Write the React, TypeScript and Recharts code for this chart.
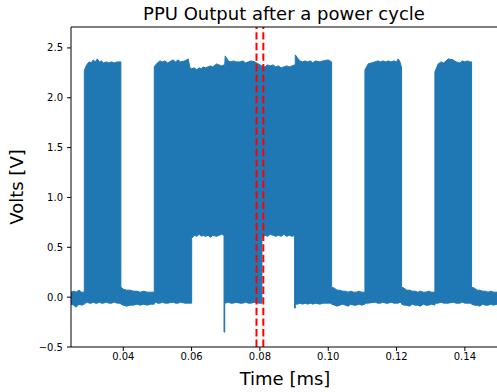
import React from 'react';
import { ComposedChart, Area, XAxis, YAxis, ReferenceLine } from 'recharts';

// Time axis (ms) of the envelope points of the sampled PPU output
const timeMs = [
  0.0247, 0.0255, 0.0262, 0.0270, 0.0278, 0.0286,
  0.0286, 0.0290, 0.0295, 0.0300, 0.0306, 0.0312, 0.0318, 0.0324, 0.0330, 0.0336, 0.0342, 0.0350, 0.0358, 0.0366, 0.0374, 0.0382, 0.0393,
  0.0393, 0.0400, 0.0410, 0.0420, 0.0430, 0.0440, 0.0450, 0.0460, 0.0470, 0.0480, 0.04907,
  0.04907, 0.0495, 0.0500, 0.05074, 0.0515, 0.0522, 0.0530, 0.05454, 0.0553, 0.05601, 0.0568, 0.05806, 0.05902, 0.05952, 0.06002,
  0.06002, 0.0608, 0.0615, 0.0622, 0.0630, 0.06332, 0.0640, 0.0648, 0.0655, 0.0662, 0.06733, 0.0680, 0.0688, 0.0695,
  0.0695, 0.0697, 0.0697,
  0.06985, 0.07073, 0.0715, 0.0722, 0.0730, 0.07415, 0.0750, 0.0758, 0.0766, 0.0774, 0.07854, 0.0795, 0.08059,
  0.08059, 0.08147, 0.0822, 0.0830, 0.08390, 0.0846, 0.0854, 0.0862, 0.0870, 0.08782, 0.0886, 0.0894, 0.09015,
  0.09015, 0.09035, 0.09035,
  0.0910, 0.09171, 0.0925, 0.0932, 0.0940, 0.0948, 0.0955, 0.0962, 0.09757, 0.0985, 0.09999, 0.10099,
  0.10099, 0.1018, 0.1026, 0.1034, 0.1042, 0.1050, 0.1058, 0.1066, 0.1074, 0.1082, 0.1090, 0.1098, 0.11074,
  0.11074, 0.11170, 0.11366, 0.1145, 0.1153, 0.1160, 0.1168, 0.1176, 0.1184, 0.1192, 0.1200, 0.12048, 0.1210, 0.12147,
  0.12147, 0.1222, 0.1230, 0.1238, 0.1246, 0.1254, 0.1262, 0.1270, 0.1278, 0.1286, 0.1294, 0.1302, 0.13122,
  0.13122, 0.13218, 0.1330, 0.1338, 0.1345, 0.13511, 0.13658, 0.1374, 0.13854, 0.1393, 0.1400, 0.1408, 0.1415, 0.14196,
  0.14196, 0.1428, 0.1436, 0.1444, 0.1452, 0.1460, 0.1468, 0.1476, 0.1484, 0.1494,
];

// Lower envelope of the signal (V)
const lowV = [
  -0.07, -0.08, -0.10, -0.07, -0.08, -0.07,
  -0.05, -0.06, -0.05, -0.06, -0.06, -0.05, -0.06, -0.06, -0.05, -0.06, -0.06, -0.05, -0.06, -0.06, -0.05, -0.06, -0.06,
  -0.07, -0.08, -0.09, -0.08, -0.08, -0.07, -0.08, -0.07, -0.08, -0.07, -0.07,
  -0.06, -0.05, -0.06, -0.06, -0.05, -0.06, -0.06, -0.05, -0.06, -0.06, -0.05, -0.06, -0.06, -0.06, -0.06,
  0.59, 0.62, 0.61, 0.63, 0.61, 0.62, 0.61, 0.62, 0.60, 0.62, 0.61, 0.62, 0.63, 0.62,
  -0.35, -0.35, -0.06,
  -0.06, -0.05, -0.06, -0.06, -0.05, -0.06, -0.06, -0.05, -0.06, -0.06, -0.05, -0.06, -0.06,
  0.59, 0.62, 0.61, 0.63, 0.62, 0.61, 0.62, 0.61, 0.63, 0.61, 0.62, 0.61, 0.62,
  -0.11, -0.11, -0.07,
  -0.07, -0.06, -0.07, -0.06, -0.07, -0.06, -0.07, -0.06, -0.07, -0.06, -0.06, -0.06,
  -0.07, -0.08, -0.09, -0.08, -0.07, -0.08, -0.09, -0.07, -0.08, -0.08, -0.07, -0.08, -0.07,
  -0.06, -0.06, -0.05, -0.06, -0.06, -0.05, -0.06, -0.06, -0.05, -0.06, -0.06, -0.06, -0.05, -0.06,
  -0.07, -0.08, -0.08, -0.09, -0.07, -0.08, -0.08, -0.09, -0.07, -0.08, -0.08, -0.07, -0.08,
  -0.06, -0.06, -0.05, -0.06, -0.06, -0.06, -0.05, -0.06, -0.06, -0.05, -0.06, -0.06, -0.06, -0.06,
  -0.07, -0.08, -0.08, -0.09, -0.07, -0.08, -0.08, -0.07, -0.08, -0.07,
];

// Upper envelope of the signal (V)
const highV = [
  0.05, 0.06, 0.05, 0.07, 0.05, 0.05,
  2.27, 2.31, 2.34, 2.36, 2.35, 2.38, 2.36, 2.39, 2.36, 2.37, 2.35, 2.36, 2.35, 2.36, 2.35, 2.36, 2.36,
  0.10, 0.08, 0.07, 0.07, 0.06, 0.06, 0.05, 0.06, 0.05, 0.05, 0.05,
  2.31, 2.33, 2.35, 2.37, 2.36, 2.37, 2.35, 2.38, 2.36, 2.38, 2.36, 2.37, 2.39, 2.30, 2.29,
  2.29, 2.30, 2.28, 2.30, 2.29, 2.31, 2.30, 2.31, 2.32, 2.31, 2.34, 2.33, 2.32, 2.33,
  2.33, 2.33, 2.33,
  2.42, 2.37, 2.36, 2.37, 2.36, 2.36, 2.37, 2.35, 2.36, 2.37, 2.36, 2.34, 2.32,
  2.32, 2.31, 2.33, 2.32, 2.33, 2.31, 2.32, 2.30, 2.31, 2.32, 2.31, 2.32, 2.33,
  2.33, 2.33, 2.43,
  2.40, 2.37, 2.36, 2.37, 2.36, 2.37, 2.35, 2.37, 2.36, 2.37, 2.38, 2.36,
  0.10, 0.09, 0.07, 0.07, 0.06, 0.06, 0.05, 0.06, 0.05, 0.05, 0.06, 0.05, 0.05,
  2.28, 2.34, 2.36, 2.37, 2.36, 2.37, 2.36, 2.37, 2.36, 2.37, 2.36, 2.39, 2.36, 2.30,
  0.10, 0.09, 0.07, 0.07, 0.06, 0.06, 0.05, 0.06, 0.05, 0.05, 0.06, 0.05, 0.05,
  2.26, 2.34, 2.36, 2.35, 2.37, 2.39, 2.38, 2.36, 2.35, 2.37, 2.36, 2.37, 2.36, 2.36,
  0.10, 0.09, 0.07, 0.07, 0.06, 0.06, 0.05, 0.06, 0.05, 0.05,
];

// Marker positions (ms) of the red dashed lines
const markerTimes = [0.079, 0.081];

const xTicks = [0.04, 0.06, 0.08, 0.10, 0.12, 0.14];
const yTicks = [-0.5, 0.0, 0.5, 1.0, 1.5, 2.0, 2.5];
const xDomain: [number, number] = [0.0247, 0.1494];
const yDomain: [number, number] = [-0.5, 2.71];

const data = timeMs.map((t, i) => ({ t, range: [lowV[i], highV[i]] }));

const FONT = 'DejaVu Sans';
const tickStyle = { fontFamily: FONT, fontSize: 10, fill: '#000' };
const fmt = (d: number) => (v: number) => v.toFixed(d).replace('-', '\u2212');

export default function App() {
  return (
    <div style={{ position: 'absolute', left: 0, top: 0, width: 497, height: 392, overflow: 'hidden', background: '#fff' }}>
      <ComposedChart width={497} height={392} data={data} margin={{ top: 27, right: 0, bottom: 0, left: 0 }}>
        <XAxis
          type="number"
          dataKey="t"
          domain={xDomain}
          allowDataOverflow
          ticks={xTicks}
          tickFormatter={fmt(2)}
          tick={tickStyle}
          tickSize={4}
          tickMargin={2}
          height={45}
          axisLine={{ stroke: '#000', strokeWidth: 1 }}
          tickLine={{ stroke: '#000', strokeWidth: 1 }}
        />
        <YAxis
          type="number"
          domain={yDomain}
          allowDataOverflow
          ticks={yTicks}
          tickFormatter={fmt(1)}
          tick={tickStyle}
          tickSize={4}
          tickMargin={4}
          width={71}
          axisLine={{ stroke: '#000', strokeWidth: 1 }}
          tickLine={{ stroke: '#000', strokeWidth: 1 }}
        />
        <Area
          type="linear"
          dataKey="range"
          stroke="#1f77b4"
          strokeWidth={1}
          fill="#1f77b4"
          fillOpacity={1}
          isAnimationActive={false}
          dot={false}
          activeDot={false}
        />
        {markerTimes.map((m) => (
          <ReferenceLine key={m} x={m} stroke="#ff0000" strokeWidth={2} strokeDasharray="7.4 3.2" />
        ))}
        <ReferenceLine y={yDomain[1]} stroke="#000" strokeWidth={1} />
      </ComposedChart>
      <svg width={497} height={392} style={{ position: 'absolute', left: 0, top: 0, pointerEvents: 'none' }}>
        <text x={284} y={20} textAnchor="middle" fontFamily={FONT} fontSize={18} fill="#000">
          PPU Output after a power cycle
        </text>
        <text x={285} y={385} textAnchor="middle" fontFamily={FONT} fontSize={18} fill="#000">
          Time [ms]
        </text>
        <text x={23} y={187} textAnchor="middle" fontFamily={FONT} fontSize={18} fill="#000" transform="rotate(-90 23 187)">
          Volts [V]
        </text>
      </svg>
    </div>
  );
}
